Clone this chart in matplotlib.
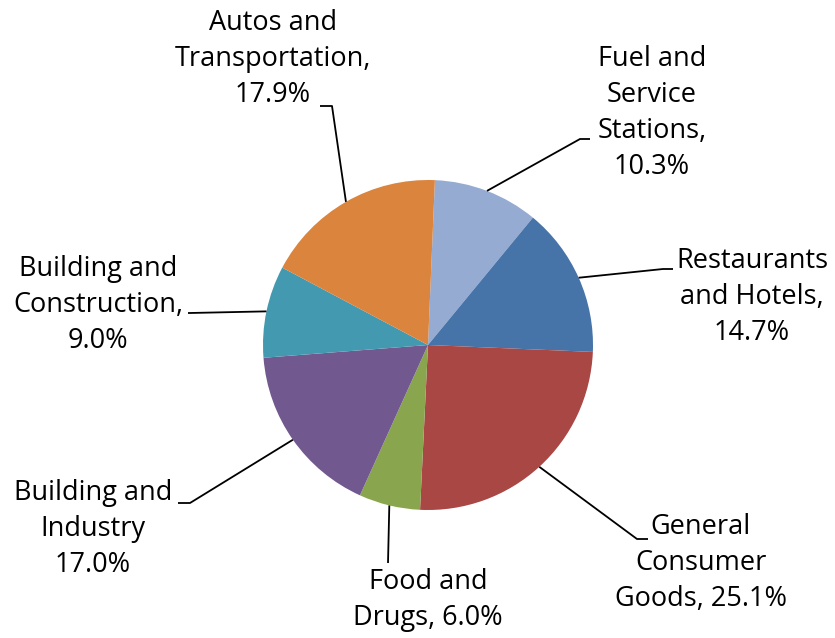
import numpy as np
import matplotlib
matplotlib.use("Agg")
import matplotlib.pyplot as plt

plt.rcParams['font.family'] = ['Open Sans', 'DejaVu Sans']

# sector shares, clockwise from the top
labels = ["Fuel and\nService\nStations,\n10.3%",
          "Restaurants\nand Hotels,\n14.7%",
          "General\nConsumer\nGoods, 25.1%",
          "Food and\nDrugs, 6.0%",
          "Building and\nIndustry\n17.0%",
          "Building and\nConstruction,\n9.0%",
          "Autos and\nTransportation,\n17.9%"]
values = [10.3, 14.7, 25.1, 6.0, 17.0, 9.0, 17.9]
colors = ["#95abd2", "#4673a8", "#a94744", "#89a54e", "#71598f", "#4299b0", "#db843d"]

W, H = 835, 638
CX, CY, R = 428, 345, 165
START = 87.6

# label block centres and leader-line elbows / ends (pixel coords, y down)
label_xy = [(652, 113), (752, 297), (701, 563), (428, 600), (93, 529), (98, 305), (273, 59)]
elbow_xy = [(580, 139), (663, 269), (637, 539), (388, 563), (190, 503), (190, 313), (332, 106)]
end_xy = [(590, 139), (673, 269), (648, 539), (388, 563), (178, 503), (188, 313), (320, 106)]

fig = plt.figure(figsize=(W / 100, H / 100), dpi=100)
ax = fig.add_axes([0, 0, 1, 1])

ax.pie(values, colors=colors, startangle=START, counterclock=False,
       center=(CX, H - CY), radius=R,
       wedgeprops=dict(linewidth=0))
ax.set_xlim(0, W)
ax.set_ylim(0, H)
ax.set_aspect('equal')
ax.axis('off')

cum = np.cumsum([0] + values[:-1])
for i, v in enumerate(values):
    mid = np.deg2rad(START - 3.6 * (cum[i] + v / 2))
    ax0 = CX + R * np.cos(mid)
    ay0 = H - CY + R * np.sin(mid)
    ex, ey = elbow_xy[i]
    fx, fy = end_xy[i]
    ax.plot([ax0, ex, fx], [ay0, H - ey, H - fy], color='black', lw=1.3,
            solid_capstyle='butt')
    lx, ly = label_xy[i]
    ax.text(lx, H - ly, labels[i], ha='center', va='center',
            fontsize=19.5, linespacing=1.38, color='black')

fig.savefig("out.png", dpi=100)
